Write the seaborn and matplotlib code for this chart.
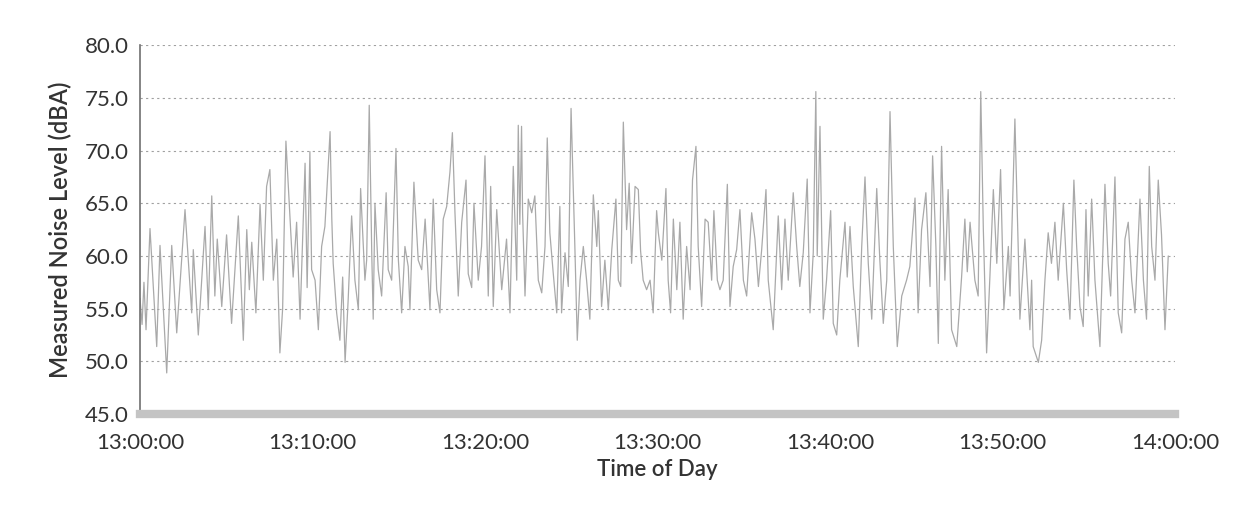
import matplotlib
matplotlib.use("Agg")
import matplotlib.pyplot as plt
from matplotlib.ticker import FuncFormatter
import pandas as pd
import seaborn as sns

# minutes after 13:00:00
minutes = [
    0.00, 0.12, 0.23, 0.35, 0.58, 0.97, 1.16, 1.55, 1.84, 2.13, 2.61, 3.00, 3.09, 3.38, 3.77,
    3.96, 4.16, 4.34, 4.48, 4.74, 5.02, 5.31, 5.70, 5.99, 6.19, 6.34, 6.48, 6.72, 6.96, 7.15,
    7.34, 7.53, 7.73, 7.93, 8.11, 8.27, 8.46, 8.70, 8.88, 9.08, 9.28,
    9.57, 9.69, 9.85, 9.95, 10.15, 10.34, 10.53, 10.72, 11.02, 11.12, 11.20, 11.40, 11.59,
    11.75, 11.89, 12.07, 12.27, 12.46, 12.66, 12.79, 13.04, 13.14, 13.29, 13.44, 13.52, 13.62,
    13.81, 14.01, 14.27, 14.39, 14.59, 14.84, 14.98, 15.17, 15.36, 15.55, 15.65, 15.88, 16.13,
    16.33, 16.53, 16.81, 17.00, 17.20, 17.39, 17.58, 17.78, 17.97, 18.11, 18.26, 18.45, 18.65,
    18.90, 19.03, 19.23,
    19.36, 19.61, 19.80, 20.00, 20.19, 20.33, 20.48, 20.68, 20.97, 21.25, 21.45, 21.64, 21.84,
    21.93, 22.02, 22.12, 22.18, 22.32, 22.51, 22.71, 22.89, 23.09, 23.29, 23.48, 23.61, 23.76,
    23.96, 24.16, 24.34, 24.44, 24.64, 24.83, 24.99, 25.21, 25.35, 25.51, 25.70, 25.89, 26.08,
    26.28, 26.48, 26.57, 26.76, 26.95, 27.15, 27.35, 27.59, 27.73, 27.87, 28.02, 28.21, 28.36,
    28.50, 28.70, 28.89, 29.02,
    29.17, 29.37, 29.57, 29.75, 29.95, 30.05, 30.25, 30.49, 30.62, 30.76, 30.92, 31.12, 31.30,
    31.49, 31.69, 31.89, 32.03, 32.23, 32.36, 32.56, 32.76, 32.94, 33.14, 33.27, 33.47, 33.62,
    33.81, 34.05, 34.20, 34.39, 34.59, 34.78, 34.98, 35.17, 35.46, 35.65, 35.85, 36.04, 36.29,
    36.42, 36.71, 37.00, 37.20, 37.39, 37.58, 37.87, 38.07, 38.25, 38.45, 38.68, 38.84, 39.03,
    39.18,
    39.26, 39.42, 39.52, 39.61, 39.80, 40.04, 40.19, 40.39, 40.57, 40.87, 41.00, 41.16, 41.35,
    41.64, 41.84, 42.03, 42.22, 42.42, 42.71, 42.89, 43.09, 43.29, 43.48, 43.67, 43.90, 44.16,
    44.44, 44.63, 44.93, 45.11, 45.31, 45.56, 45.80, 45.95, 46.14, 46.28, 46.47, 46.66, 46.85,
    47.05, 47.35, 47.63, 47.82, 47.96, 48.12, 48.40, 48.59, 48.74, 48.89, 49.08,
    49.27, 49.47, 49.67, 49.89, 50.08, 50.34, 50.44, 50.72, 50.91, 51.01, 51.30, 51.59, 51.69,
    51.78, 52.08, 52.27, 52.46, 52.65, 52.84, 53.04, 53.23, 53.53, 53.72, 53.91, 54.14, 54.30,
    54.49, 54.68, 54.84, 54.97, 55.17, 55.36, 55.65, 55.94, 56.13, 56.27, 56.52, 56.71, 56.91,
    57.10, 57.29, 57.49, 57.68, 57.97, 58.17, 58.35, 58.51, 58.65, 58.84, 59.03, 59.22,
    59.42, 59.61,
]

noise_dba = [
    56.0, 53.5, 57.5, 53.0, 62.6, 51.4, 61.0, 48.9, 61.0, 52.7, 64.4, 54.6, 60.6, 52.5, 62.8,
    55.0, 65.7, 56.2, 61.6, 55.2, 62.0, 53.6, 63.8, 52.0, 62.5, 56.8, 61.3, 54.6, 64.9, 57.7,
    66.6, 68.2, 57.7, 61.6, 50.8, 55.0, 70.9, 63.5, 58.0, 63.2, 54.0,
    68.8, 57.0, 69.9, 58.7, 57.7, 53.0, 60.9, 62.8, 71.8, 63.5, 59.3, 54.6, 52.0,
    58.0, 49.9, 55.9, 63.8, 57.7, 54.9, 66.4, 57.7, 59.6, 74.3, 59.9, 54.0, 65.0,
    58.7, 56.2, 66.0, 58.7, 57.7, 70.2, 59.6, 54.6, 60.9, 59.0, 54.9, 67.0, 59.6,
    58.7, 63.5, 54.9, 65.4, 56.8, 54.6, 63.5, 64.7, 68.0, 71.7, 64.1, 56.2, 63.2,
    67.2, 58.3, 57.0,
    65.0, 57.7, 60.9, 69.5, 56.2, 66.6, 55.2, 64.4, 56.8, 61.6, 54.6, 68.5, 57.7,
    72.4, 63.0, 72.3, 64.1, 56.2, 65.4, 64.1, 65.7, 57.7, 56.5, 60.9, 71.2, 62.2,
    58.3, 54.6, 64.7, 54.6, 60.3, 57.1, 74.0, 60.9, 52.0, 57.7, 60.9, 57.7, 54.0,
    65.8, 60.9, 64.3, 55.2, 59.6, 54.9, 60.6, 65.4, 57.7, 57.1, 72.7, 62.5, 66.9,
    59.3, 66.6, 66.3, 60.5,
    57.7, 56.8, 57.7, 54.6, 64.3, 62.2, 59.6, 66.4, 57.7, 54.6, 63.5, 56.8, 63.2,
    54.0, 60.9, 56.8, 67.2, 70.4, 60.9, 55.2, 63.5, 63.2, 57.7, 64.3, 57.7, 56.8,
    57.7, 66.8, 55.2, 59.0, 60.6, 64.4, 57.7, 56.2, 64.1, 61.6, 57.1, 60.6, 66.3,
    57.7, 53.0, 63.8, 56.8, 63.5, 57.7, 66.0, 60.9, 57.1, 60.3, 67.3, 54.6, 60.3,
    75.6,
    60.0, 72.3, 62.0, 54.0, 57.7, 64.3, 53.6, 52.5, 57.7, 63.2, 58.0, 62.8, 57.1,
    51.4, 60.9, 67.5, 59.3, 54.0, 66.4, 59.6, 53.6, 57.7, 73.7, 60.9, 51.4, 56.2,
    57.7, 59.0, 65.5, 54.6, 62.5, 66.0, 57.1, 69.5, 60.9, 51.7, 70.4, 57.7, 66.3,
    53.0, 51.4, 58.0, 63.5, 58.5, 63.2, 57.7, 56.2, 75.6, 62.5, 50.8,
    58.0, 66.3, 59.3, 68.2, 54.9, 60.9, 56.2, 73.0, 60.9, 54.0, 61.6, 53.0, 57.7,
    51.4, 49.9, 52.0, 57.7, 62.2, 59.3, 63.2, 57.7, 65.0, 58.7, 54.0, 67.2, 60.9,
    55.2, 53.3, 64.4, 56.2, 65.4, 57.7, 51.4, 66.8, 59.3, 56.2, 67.5, 54.6, 52.7,
    61.6, 63.2, 57.7, 54.6, 65.4, 57.7, 54.0, 68.5, 60.9, 57.7, 67.2, 62.0,
    53.0, 60.0,
]

y_ticks = [45, 50, 55, 60, 65, 70, 75, 80]
x_tick_minutes = [0, 10, 20, 30, 40, 50, 60]

df = pd.DataFrame({"minute": minutes, "level": noise_dba})

sns.set_style("white")
plt.rcParams["font.family"] = ["Lato", "DejaVu Sans"]

fig = plt.figure(figsize=(12.41, 5.08), dpi=100)
ax = fig.add_axes([0.1128, 0.185, 0.834, 0.726])

sns.lineplot(data=df, x="minute", y="level", ax=ax, color="#a9a9a9",
             linewidth=0.9, estimator=None, sort=False)

ax.set_xlim(0, 60)
ax.set_ylim(45, 80)
ax.set_yticks(y_ticks)
ax.set_xticks(x_tick_minutes)
ax.yaxis.set_major_formatter(FuncFormatter(lambda v, p: f"{v:.1f}"))
ax.xaxis.set_major_formatter(
    FuncFormatter(lambda m, p: f"{13 + int(m) // 60}:{int(m) % 60:02d}:00"))

for yv in y_ticks[1:]:
    ax.axhline(yv, color="#a0a0a0", linestyle=(0, (2, 3)), linewidth=0.8, zorder=0)

for side in ["top", "right"]:
    ax.spines[side].set_visible(False)
ax.spines["left"].set_color("#707070")
ax.spines["left"].set_linewidth(1.2)
ax.spines["bottom"].set_color("#c4c4c4")
ax.spines["bottom"].set_linewidth(6)

ax.tick_params(axis="both", labelsize=16, colors="#333333", length=0)
ax.tick_params(axis="y", pad=8)
ax.tick_params(axis="x", pad=14)

ax.set_xlabel("Time of Day", fontsize=16, fontweight="semibold", color="#333333", labelpad=4)
ax.set_ylabel("Measured Noise Level (dBA)", fontsize=17, fontweight="semibold",
              color="#333333", labelpad=9)

fig.savefig("out.png", dpi=100, facecolor="white")
